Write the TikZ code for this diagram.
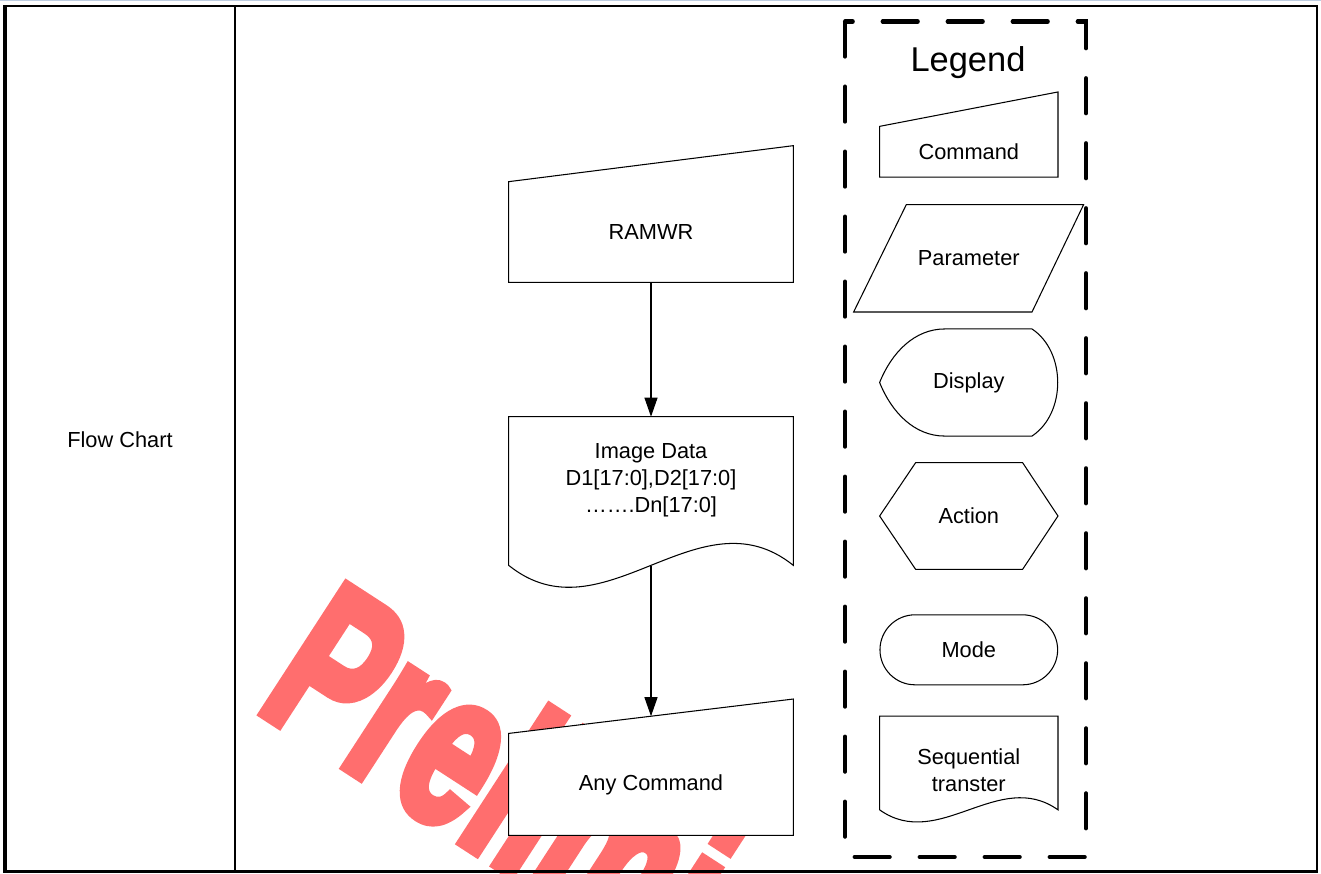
\documentclass[tikz,border=0pt]{standalone}
\usepackage{fontspec}
\setmainfont{Liberation Sans}
\newfontfamily\wmfont{Liberation Sans Bold}[FakeBold=5]
\usetikzlibrary{arrows.meta,calc,backgrounds}
\definecolor{wmred}{RGB}{255,110,110}
\definecolor{pageblue}{RGB}{190,205,225}

\begin{document}
\begin{tikzpicture}[x=0.02cm, y=-0.02cm,
    >={Triangle[width=7.4pt,length=10.8pt]},
    txt/.style={font=\fontsize{12.4}{15.5}\selectfont, align=center, inner sep=0pt},
    body/.style={txt, minimum width=5.68cm},
    leg/.style={txt, minimum width=3.554cm},
    shp/.style={draw, line width=0.6pt, fill=white},
    arr/.style={->, line width=0.6pt},
    tbl/.style={line width=1.15pt},
    legbox/.style={line width=2.3pt, line cap=round, dash pattern=on 20pt off 17pt},
    wmark/.style={font=\wmfont\fontsize{83.4}{84}\selectfont, text=wmred, inner sep=0pt}]
  \useasboundingbox (0,0) rectangle (1321,873);

  % left column
  \node[txt] (fc) at (120,440) {Flow Chart};

  % flow
  \node[body, minimum height=2cm] (ramwr) at (651,232) {RAMWR};
  \node[body, minimum height=2.52cm] (imgdata) at (651,480) {Image Data\\D1[17:0],D2[17:0]\\…….Dn[17:0]};
  \node[body, minimum height=2.026cm] (anycmd) at (651,784.4) {Any Command};

  \draw[arr] (ramwr) -- (imgdata);
  \draw[arr] ($(imgdata.south)+(0,23)$) -- ($(anycmd.north)+(0,-17.2)$);

  % legend
  \node[txt, font=\fontsize{19.6}{22}\selectfont] (legend) at (968,63) {Legend};
  \node[leg, minimum height=1cm] (lcmd) at (968.8,151.7) {Command};
  \node[leg, minimum height=2.134cm] (lpar) at (968.8,258.3) {Parameter};
  \node[leg, minimum height=2.128cm] (ldisp) at (968.8,382.5) {Display};
  \node[leg, minimum height=2.12cm] (lact) at (968.8,516) {Action};
  \node[leg, draw, line width=0.6pt, rounded corners=0.7cm, minimum height=1.4cm] (lmode) at (968.8,649.8) {Mode};
  \node[leg, minimum height=2.14cm] (lseq) at (968.8,770) {Sequential\\transter};

  \draw[legbox] (845,21.5) rectangle (1086,857);

  \begin{scope}[on background layer]
    \begin{scope}
      \clip (0,0) rectangle (1321,873);
      \node[wmark, anchor=base west, rotate=-33, yscale=1.51] (prelim) at (254,707.2) {Preliminary};
    \end{scope}
    \draw[shp] (ramwr.south west) -- (ramwr.north west) -- ($(ramwr.north east)+(0,-36)$) -- (ramwr.south east) -- cycle;
    \draw[shp] ($(imgdata.south west)+(0,22)$) -- (imgdata.north west) -- (imgdata.north east) -- ($(imgdata.south east)+(0,22)$)
      .. controls ($(imgdata.south east)+(-94.7,-54)$) and ($(imgdata.south west)+(94.7,98)$) .. ($(imgdata.south west)+(0,22)$) -- cycle;
    \draw[shp] (anycmd.south west) -- (anycmd.north west) -- ($(anycmd.north east)+(0,-34.4)$) -- (anycmd.south east) -- cycle;
    \draw[shp] (lcmd.south west) -- (lcmd.north west) -- ($(lcmd.north east)+(0,-34.4)$) -- (lcmd.south east) -- cycle;
    \draw[shp] ($(lpar.south west)+(-26,0)$) -- ($(lpar.north west)+(26.7,0)$) -- ($(lpar.north east)+(25.6,0)$) -- ($(lpar.south east)+(-26,0)$) -- cycle;
    \draw[shp] ($(ldisp.north west)+(65,0)$) -- ($(ldisp.north east)+(-26,0)$)
      .. controls ($(ldisp.north east)+(8.3,22.7)$) and ($(ldisp.south east)+(8.3,-22.7)$) .. ($(ldisp.south east)+(-26,0)$)
      -- ($(ldisp.south west)+(65,0)$)
      .. controls ($(ldisp.south west)+(35,0)$) and ($(ldisp.west)+(12,30)$) .. (ldisp.west)
      .. controls ($(ldisp.west)+(12,-30)$) and ($(ldisp.north west)+(35,0)$) .. ($(ldisp.north west)+(65,0)$) -- cycle;
    \draw[shp] (lact.west) -- ($(lact.north west)+(36,0)$) -- ($(lact.north east)+(-35.4,0)$) -- (lact.east)
      -- ($(lact.south east)+(-35.4,0)$) -- ($(lact.south west)+(36,0)$) -- cycle;
    \draw[shp] ($(lseq.south west)+(0,-14)$) -- (lseq.north west) -- (lseq.north east) -- ($(lseq.south east)+(0,-14)$)
      .. controls ($(lseq.south east)+(-59.2,-56)$) and ($(lseq.south west)+(59.2,28)$) .. ($(lseq.south west)+(0,-14)$) -- cycle;
  \end{scope}

  % table frame
  \draw[pageblue, line width=0.7pt] (0,0.6) -- (1321,0.6);
  \draw[tbl] (3.3,6.2) -- (1318.3,6.2);
  \draw[tbl, line width=2.27pt] (5.3,5) -- (5.3,873);
  \draw[tbl] (235.3,6) -- (235.3,872);
  \draw[tbl, line width=1.5pt] (1317,5) -- (1317,872);
  \draw[tbl, line width=1.7pt] (3,871) -- (1318.3,871);
\end{tikzpicture}
\end{document}
